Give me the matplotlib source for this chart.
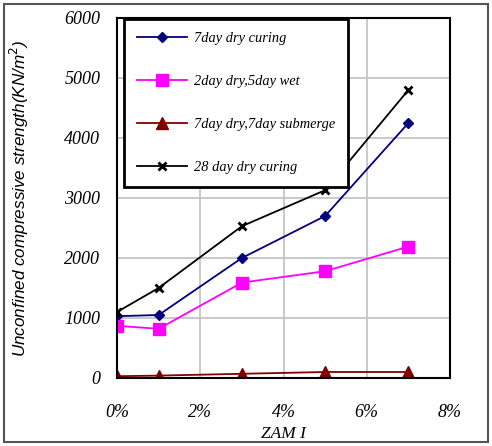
import matplotlib.pyplot as plt
from matplotlib.patches import Rectangle

# ZAM I content (%)
zam = [0, 1, 3, 5, 7]

dry7 = [1030, 1050, 2000, 2700, 4250]
dry2_wet5 = [870, 820, 1590, 1780, 2190]
dry7_sub7 = [30, 40, 70, 100, 100]
dry28 = [1100, 1500, 2530, 3130, 4800]

labels = ['7day dry curing', '2day dry,5day wet',
          '7day dry,7day submerge', '28 day dry curing']

fig = plt.figure(figsize=(4.92, 4.46), dpi=100)
ax = fig.add_axes([117/492, 1 - 378/446, 333/492, 360/446])

ax.plot(zam, dry7, color='#000080', marker='D', markersize=5, lw=1.3, label=labels[0])
ax.plot(zam, dry2_wet5, color='#FF00FF', marker='s', markersize=8, lw=1.3, label=labels[1])
ax.plot(zam, dry7_sub7, color='#800000', marker='^', markersize=8, lw=1.3, label=labels[2])
ax.plot(zam, dry28, color='black', marker='x', markersize=6, mew=2, lw=1.3, label=labels[3])

ax.set_xlim(0, 8)
ax.set_ylim(0, 6000)
ax.set_xticks([0, 2, 4, 6, 8])
ax.set_xticklabels(['0%', '2%', '4%', '6%', '8%'])
ax.set_yticks(range(0, 6001, 1000))
ax.grid(True, color='#c0c0c0', lw=1.2)
ax.set_axisbelow(True)
for s in ax.spines.values():
    s.set_color('black')
    s.set_linewidth(1.5)
ax.tick_params(length=0, labelsize=13)
ax.tick_params(axis='x', pad=19)
ax.tick_params(axis='y', pad=12)
for t in ax.get_xticklabels() + ax.get_yticklabels():
    t.set_fontfamily('Liberation Serif')
    t.set_fontstyle('italic')

ax.set_xlabel('ZAM I', fontfamily='Liberation Serif', fontstyle='italic',
              fontsize=12.5, labelpad=3)
ax.set_ylabel('Unconfined compressive strength(KN/m$^2$)', fontfamily='Liberation Sans',
              fontstyle='italic', fontsize=12.3, labelpad=24)

leg = ax.legend(loc='upper left', bbox_to_anchor=(0.018, 1.0), frameon=True, fancybox=False,
                edgecolor='black', framealpha=1, labelspacing=2.08, handlelength=3.5,
                handletextpad=0.45, borderpad=0.9, borderaxespad=0.05,
                prop={'family': 'Liberation Serif', 'style': 'italic', 'size': 10.4})
leg.get_frame().set_linewidth(2)

fig.patches.append(Rectangle((4/492, 4/446), 484/492, 438/446, transform=fig.transFigure,
                             fill=False, edgecolor='#555555', lw=1.5))

fig.savefig('out.png', dpi=100)
